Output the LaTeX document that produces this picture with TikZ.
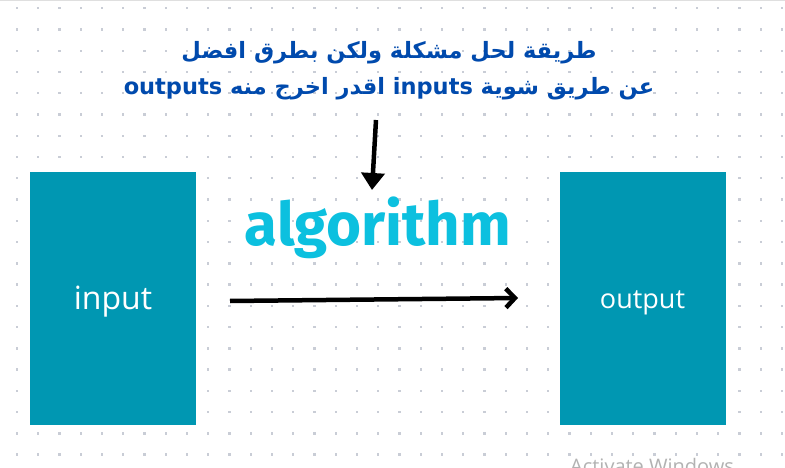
\documentclass[tikz,border=0pt]{standalone}
\usepackage{fontspec}
\setmainfont{Open Sans}
\newfontfamily\arabicfont[Script=Arabic]{DejaVu Sans}
\newfontfamily\algfont{Fira Sans}
\TeXXeTstate=1
\usetikzlibrary{arrows.meta}
\definecolor{teal}{HTML}{0097B2}
\definecolor{cyanalg}{HTML}{0CC0DF}
\definecolor{darkblue}{HTML}{004AAD}
\definecolor{dotgray}{HTML}{C9CDD6}
\tikzset{
  box/.style={fill=teal, draw=none, minimum width=166pt, minimum height=253pt, inner sep=0pt, text=white},
  conn/.style={line width=4.5pt, black},
}
\begin{document}
\begin{tikzpicture}[x=1pt,y=-1pt]
\useasboundingbox (0,0) rectangle (785,468);
\fill[white] (0,0) rectangle (785,468);
\draw[gray!25, line width=1.5pt] (0,0.7) -- (785,0.7);
\foreach \i in {0,...,36} {
  \foreach \j in {0,...,21} {
    \fill[dotgray] ({17+21.25*\i-1.2},{8.3+21.25*\j-1.2}) rectangle ++(2.4,2.4);
  }
}
\node[box] (in) at (113,298.5) {};
\node[text=white, font=\fontsize{32}{36}\selectfont, inner sep=0pt] (intext) at (113,302) {input};
\node[box] (out) at (642.5,298.5) {};
\node[text=white, font=\fontsize{27}{32}\selectfont, inner sep=0pt] (outtext) at (642.5,303) {output};
\node[text=cyanalg, font=\algfont\bfseries\fontsize{60}{66}\selectfont, inner sep=0pt] (alg) at (378,228) {algorithm};
\node[text=darkblue, font=\arabicfont\bfseries\fontsize{22.5}{36}\selectfont, align=center, inner sep=0pt] (title) at (389,71)
 {\beginR طريقة لحل مشكلة ولكن بطرق افضل\endR\\
  \beginR عن طريق شوية \beginL inputs\endL{} اقدر اخرج منه \beginL outputs\endL\endR};
\coordinate (dA) at (376,120);
\coordinate (dB) at (372,190);
\draw[conn, -{Triangle[width=23pt,length=17pt]}] (dA) -- (dB);
\coordinate (rA) at (230,301);
\coordinate (rB) at (518,298);
\draw[conn, -{Straight Barb[width=19pt,length=9pt,line width=4.5pt]}] (rA) -- (rB);
\begin{scope}
\clip (0,0) rectangle (785,468);
\node[anchor=north west, text=gray!60, font=\fontsize{20}{24}\selectfont, inner sep=0pt] (wm) at (570,458) {Activate Windows};
\end{scope}
\end{tikzpicture}
\end{document}
